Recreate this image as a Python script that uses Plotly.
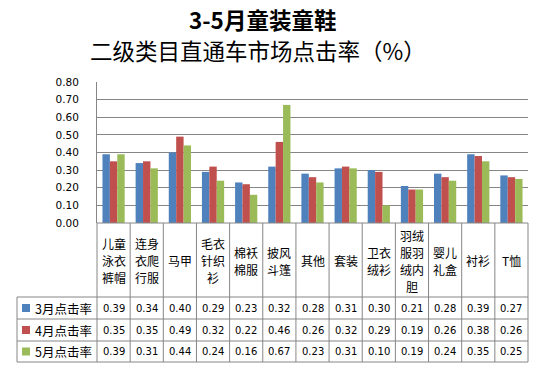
import plotly.graph_objects as go

categories = ["儿童泳衣裤帽", "连身衣爬行服", "马甲", "毛衣针织衫", "棉袄棉服", "披风斗篷",
              "其他", "套装", "卫衣绒衫", "羽绒服羽绒内胆", "婴儿礼盒", "衬衫", "T恤"]
series_names = ["3月点击率", "4月点击率", "5月点击率"]
mar = [0.39, 0.34, 0.40, 0.29, 0.23, 0.32, 0.28, 0.31, 0.30, 0.21, 0.28, 0.39, 0.27]
apr = [0.35, 0.35, 0.49, 0.32, 0.22, 0.46, 0.26, 0.32, 0.29, 0.19, 0.26, 0.38, 0.26]
may = [0.39, 0.31, 0.44, 0.24, 0.16, 0.67, 0.23, 0.31, 0.10, 0.19, 0.24, 0.35, 0.25]
y_ticks = [0.0, 0.1, 0.2, 0.3, 0.4, 0.5, 0.6, 0.7, 0.8]
title_lines = ["3-5月童装童鞋", "二级类目直通车市场点击率（%）"]

colors = ["#4F81BD", "#C0504D", "#9BBB59"]
grid = "#868686"
W, H = 537, 368
L, R, T, B = 97, 9, 82, 145
PW, PH = W - L - R, H - T - B
n = len(categories)


def px_y(y):
    return (H - B - y) / PH


def px_x(x):
    return (x - L) / PW


fig = go.Figure()
all_series = [mar, apr, may]
for name, vals, c in zip(series_names, all_series, colors):
    fig.add_trace(go.Bar(x=categories, y=vals, name=name, marker=dict(color=c, line=dict(width=0))))

shapes = []
annotations = []

# table horizontal lines
for yy in [H - B, 297, 319, 341, 362]:
    x0 = L if yy == H - B else 17
    shapes.append(dict(type="line", xref="paper", yref="paper", x0=px_x(x0), x1=1,
                       y0=px_y(yy), y1=px_y(yy), line=dict(color=grid, width=1)))
# vertical lines
for i in range(n + 1):
    shapes.append(dict(type="line", xref="paper", yref="paper", x0=i / n, x1=i / n,
                       y0=px_y(H - B), y1=px_y(362), line=dict(color=grid, width=1)))
shapes.append(dict(type="line", xref="paper", yref="paper", x0=px_x(17), x1=px_x(17),
                   y0=px_y(297), y1=px_y(362), line=dict(color=grid, width=1)))

# category header labels
for i, cat in enumerate(categories):
    chunks = [cat[k:k + 2] for k in range(0, len(cat), 2)]
    m = len(chunks)
    for k, ch in enumerate(chunks):
        yc = 260 + (k - (m - 1) / 2) * 17
        annotations.append(dict(text=ch, xref="paper", yref="paper", x=(i + 0.5) / n, y=px_y(yc),
                                showarrow=False, xanchor="center", yanchor="middle",
                                height=16, borderpad=0,
                                font=dict(family="Noto Sans CJK SC", size=12, color="#000")))

# data rows
row_centers = [308, 330, 351.5]
for r, (name, vals, c) in enumerate(zip(series_names, all_series, colors)):
    yc = row_centers[r]
    shapes.append(dict(type="rect", xref="paper", yref="paper", x0=px_x(22), x1=px_x(30),
                       y0=px_y(yc - 4), y1=px_y(yc + 4), fillcolor=c, line=dict(width=0)))
    annotations.append(dict(text=name, xref="paper", yref="paper", x=px_x(33), y=px_y(yc),
                            showarrow=False, xanchor="left", yanchor="middle",
                            font=dict(family="Noto Sans CJK SC", size=12.5, color="#000")))
    for i, v in enumerate(vals):
        annotations.append(dict(text=f"{v:.2f}", xref="paper", yref="paper", x=(i + 0.5) / n,
                                y=px_y(yc), showarrow=False, xanchor="center", yanchor="middle",
                                font=dict(family="DejaVu Sans", size=10, color="#000")))

# titles
annotations.append(dict(text="<b>" + title_lines[0] + "</b>", xref="paper", yref="paper",
                        x=px_x(262), y=px_y(19), showarrow=False, xanchor="center", yanchor="middle",
                        height=28, borderpad=0,
                        font=dict(family="Noto Sans CJK SC", size=22.5, color="#000")))
annotations.append(dict(text=title_lines[1], xref="paper", yref="paper",
                        x=px_x(258), y=px_y(50), showarrow=False, xanchor="center", yanchor="middle",
                        height=28, borderpad=0,
                        font=dict(family="Noto Sans CJK SC", size=22.5, color="#000")))

fig.update_layout(
    width=W, height=H,
    margin=dict(l=L, r=R, t=T, b=B, autoexpand=False),
    paper_bgcolor="white", plot_bgcolor="white",
    barmode="group", bargap=0.33, bargroupgap=0,
    showlegend=False,
    shapes=shapes, annotations=annotations,
    xaxis=dict(showticklabels=False, showgrid=False, zeroline=False, showline=False,
               range=[-0.5, n - 0.5]),
    yaxis=dict(range=[0, 0.8], tickvals=y_ticks, tickformat=".2f", showgrid=True,
               gridcolor=grid, gridwidth=1, zeroline=False, showline=True, linecolor=grid,
               linewidth=1, ticks="", ticklabelstandoff=15,
               tickfont=dict(family="DejaVu Sans", size=10.5, color="#000")),
)

fig.write_html("out.html", config={"displayModeBar": False},
               post_script="document.body.style.margin='0';document.body.style.padding='0';document.body.style.overflow='hidden';")
